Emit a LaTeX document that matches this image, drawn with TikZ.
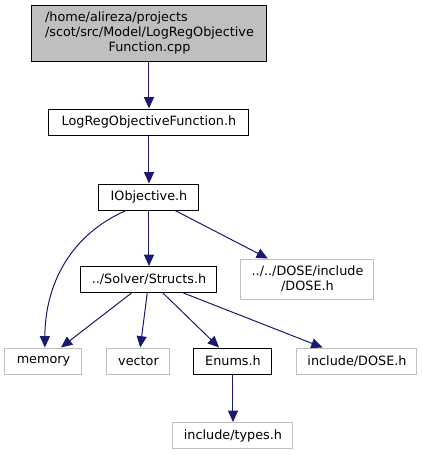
\documentclass[tikz,border=0pt]{standalone}
\usepackage{xcolor}
\usepackage{fontspec}
\setmainfont{DejaVu Sans}
\usepackage{tikz}
\usetikzlibrary{arrows.meta}
\definecolor{edgeblue}{HTML}{191970}
\definecolor{extgray}{HTML}{BFBFBF}

\begin{document}
\begin{tikzpicture}[x=0.75pt, y=-0.75pt,
  every node/.style={font=\fontsize{9.6}{11.25}\selectfont, inner sep=0pt, align=center},
  filebox/.style={draw=black, line width=0.75pt, minimum height=19.5pt},
  extbox/.style={draw=extgray, line width=0.75pt, minimum height=19.5pt},
  dep/.style={draw=edgeblue, line width=0.75pt, -{Triangle[length=8.5pt, width=7.5pt]}}]
\useasboundingbox (0,0) rectangle (423,455);

% the source file and its own headers
\node[filebox, fill=extgray, minimum width=176.25pt, minimum height=42pt] (cpp) at (149.5,33)
  {\begin{tabular}{@{}l@{}}/home/alireza/projects\\/scot/src/Model/LogRegObjective\\
   \multicolumn{1}{@{}c@{}}{Function.cpp}\end{tabular}};
\node[filebox, minimum width=150pt] (logreg) at (149,122) {LogRegObjectiveFunction.h};
\node[filebox, minimum width=75pt] (iobj) at (149,197) {IObjective.h};
\node[filebox, minimum width=102pt] (structs) at (149,279.5) {../Solver/Structs.h};
\node[extbox, minimum width=99.75pt, minimum height=30pt] (dosea) at (307.5,279) {../../DOSE/include\\/DOSE.h};

% bottom row
\node[extbox, minimum width=57.75pt] (memory) at (43.5,361) {memory};
\node[extbox, minimum width=47.25pt] (vector) at (138.5,361) {vector};
\node[filebox, minimum width=58.5pt] (enums) at (233,361) {Enums.h};
\node[extbox, minimum width=90pt] (doseb) at (357,361) {include/DOSE.h};
\node[extbox, minimum width=90pt] (types) at (233,435.5) {include/types.h};

% includes
\draw[dep] (cpp.south -| logreg) -- (logreg);
\draw[dep] (logreg) -- (iobj);
\draw[dep] (iobj) -- (structs);
\draw[dep] (iobj) -- (dosea);
\draw[dep] ([xshift=-17.25pt]iobj.south) .. controls (70,235) and (45,285) .. ([xshift=1pt]memory.north);
\draw[dep] (structs) -- (memory);
\draw[dep] (structs) -- (vector);
\draw[dep] (structs) -- (enums);
\draw[dep] (structs) -- (doseb);
\draw[dep] (enums) -- (types);
\end{tikzpicture}
\end{document}
